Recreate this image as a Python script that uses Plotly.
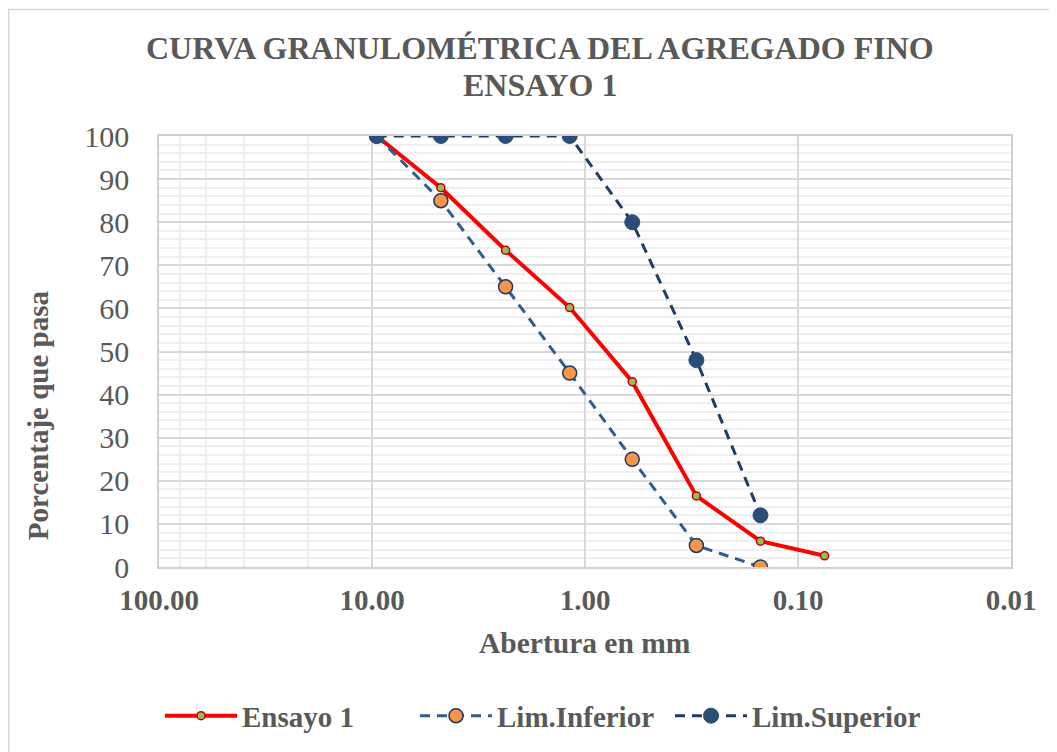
import plotly.graph_objects as go

abertura = [9.5, 4.75, 2.36, 1.18, 0.6, 0.3, 0.15, 0.075]
ensayo1 = [100, 88, 73.5, 60.2, 43, 16.5, 6, 2.6]
abertura_lim = [9.5, 4.75, 2.36, 1.18, 0.6, 0.3, 0.15]
lim_inferior = [100, 85, 65, 45, 25, 5, 0]
lim_superior = [100, 100, 100, 100, 80, 48, 12]

x_tickvals = [100, 10, 1, 0.1, 0.01]
x_ticktext = ["100.00", "10.00", "1.00", "0.10", "0.01"]

title_lines = ["CURVA GRANULOMÉTRICA DEL AGREGADO FINO", "ENSAYO 1"]

FONT = "Liberation Serif"
GREY = "#595959"

# page has an 8px body margin; all numbers below are figure px
W, H = 1041, 760
L, R, T, B = 151, 1003, 127.5, 559
PW, PH = R - L, B - T


def px(xf):
    return (xf - L) / PW


def py(yf):
    return (B - yf) / PH


fig = go.Figure()
fig.add_trace(go.Scatter(
    x=abertura, y=ensayo1, name="Ensayo 1", mode="lines+markers",
    line=dict(color="#FF0000", width=4),
    marker=dict(size=8, color="#9BBB59", line=dict(color="#C00000", width=1.5)),
))
fig.add_trace(go.Scatter(
    x=abertura_lim, y=lim_inferior, name="Lim.Inferior", mode="lines+markers",
    line=dict(color="#2E5E8E", width=3, dash="10px,7px"),
    marker=dict(size=14, color="#F79646", line=dict(color="#1F3864", width=1.5)),
))
fig.add_trace(go.Scatter(
    x=abertura_lim, y=lim_superior, name="Lim.Superior", mode="lines+markers",
    line=dict(color="#1F3D66", width=3, dash="10px,7px"),
    marker=dict(size=15, color="#2C4D78", line=dict(color="#2C4D78", width=1)),
))

fig.update_layout(
    width=W, height=H,
    margin=dict(l=L, r=W - R, t=T, b=H - B),
    paper_bgcolor="white", plot_bgcolor="white",
    font=dict(family=FONT, color=GREY),
    showlegend=True,
    legend=dict(
        orientation="h", x=px(152), xanchor="left",
        y=py(708), yanchor="middle",
        font=dict(family=FONT, size=29, color=GREY, weight="bold"),
        traceorder="normal", itemwidth=72,
        entrywidth=168, entrywidthmode="pixels",
    ),
    xaxis=dict(
        type="log", range=[2, -2], automargin=False,
        tickvals=x_tickvals, ticktext=x_ticktext,
        tickfont=dict(family=FONT, size=29, color=GREY, weight="bold"),
        showgrid=True, gridcolor="#D9D9D9", gridwidth=1.5,
        minor=dict(showgrid=True, gridcolor="#EFEFEF", gridwidth=1.5),
        showline=True, linecolor="#D0D0D0", linewidth=1.5, mirror=True,
        ticks="outside", ticklen=6, tickcolor="white", zeroline=False,
    ),
    yaxis=dict(
        range=[0, 100], dtick=10, automargin=False,
        tickfont=dict(family=FONT, size=30, color=GREY),
        showgrid=True, gridcolor="#D9D9D9", gridwidth=1.5,
        minor=dict(dtick=2, showgrid=True, gridcolor="#EFEFEF", gridwidth=1.5),
        showline=True, linecolor="#D0D0D0", linewidth=1.5, mirror=True,
        ticks="outside", ticklen=22, tickcolor="white", zeroline=False,
    ),
)

# title (two lines)
for txt, yc in zip(title_lines, [39, 76]):
    fig.add_annotation(
        text="<b>" + txt + "</b>", showarrow=False,
        xref="paper", yref="paper", x=px(532), y=py(yc),
        xanchor="center", yanchor="middle",
        font=dict(family=FONT, size=32, color=GREY),
    )

fig.add_annotation(
    text="<b>Porcentaje que pasa</b>", textangle=-90, showarrow=False,
    xref="paper", yref="paper", x=px(30), y=py(407),
    xanchor="center", yanchor="middle",
    font=dict(family=FONT, size=29, color=GREY),
)
fig.add_annotation(
    text="<b>Abertura en mm</b>", showarrow=False,
    xref="paper", yref="paper", x=px(577), y=py(635),
    xanchor="center", yanchor="middle",
    font=dict(family=FONT, size=29.5, color=GREY),
)

# outer chart border (top-left corner visible in reference)
fig.add_shape(type="rect", xref="paper", yref="paper",
              x0=px(0.75), x1=1.2, y0=-0.9, y1=py(0.75),
              line=dict(color="#D9D9D9", width=1.5), layer="below")

fig.write_html("out.html")
